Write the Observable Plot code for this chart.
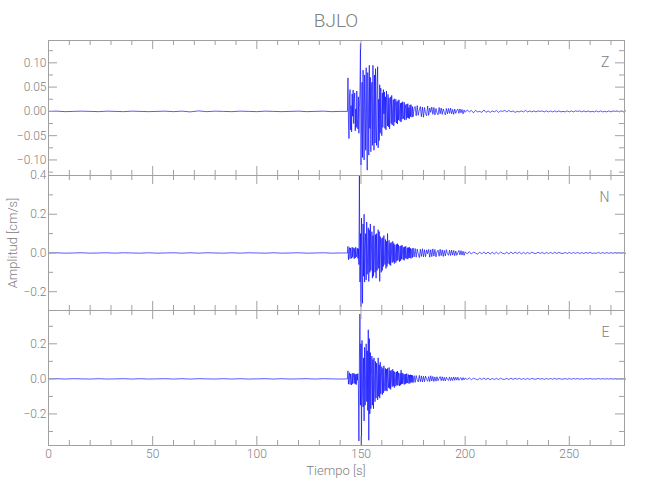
<!DOCTYPE html>
<html><head><meta charset="utf-8">
<script src="https://cdn.jsdelivr.net/npm/d3@7"></script>
<script src="https://cdn.jsdelivr.net/npm/@observablehq/plot@0.6"></script>
<style>
body{margin:0;background:#fff;}
#chart{position:relative;width:650px;height:500px;font-family:Roboto,"Liberation Sans Narrow",sans-serif;font-weight:300;color:#808080;overflow:hidden;}
#chart svg{position:absolute;left:0;}
.lbl{position:absolute;white-space:nowrap;color:#808080;}
</style></head><body><div id="chart"></div>
<script>
// ---- data (amplitudes in thousandths of cm/s) ----
const title = "BJLO";
const components = ["Z", "N", "E"];
const unit = 0.001;
const preStart = 0, preStep = 4;
const mainStart = 143.5, mainStep = 0.25;
const coda1Start = 175, coda1Step = 0.5;
const coda2Start = 200, coda2Step = 1;

const zPre = [0,0.5,-0.5,0,0.5,0,-0.5,0.5,0,-0.5,0.5,0,-0.5,0,0.5,-0.5,0.5,-1,1,-0.5,0.5,0,-0.5,0.5,0,-0.5,0.5,0,-0.5,0,0.5,-0.5,0,0.5,-0.5,0];
const zMain = [
0,69,-20,-56, 30,45,-38,12, -42,36,-10,44, -25,20,38,-40, 5,-33,42,-15, -36,30,-45,8,
40,140,-111,-30, 60,-95,85,-20, -100,75,10,-80, 90,-40,-121,80, 20,-90,95,-35, 70,-83,40,60,
-70,95,-10,-80, 75,-65,88,-30, -70,60,92,-75, 25,-60,55,-45, 48,-15,-50,38, -33,45,-5,40,
-35,30,-38,42, 10,-30,35,-32, 28,-36,12,30, -25,33,-28,5, 24,-30,26,-22, 10,25,-24,20,
-26,22,-18,24, -5,-20,17,-22, 18,-16,20,-8, -15,19,-18,14, 4,-17,15,-13, 16,-14,8,-15,
13,-11,14,-3, -12,10];
const zCoda1 = [
-11,6,10,-9,12,-8,3,10,-11,9, -12,8,-4,-9,11,-8,7,-2,9,-6,
8,-7,6,-3,-7,8,-5,7,-6,5, -2,-7,6,-5,6,-4,7,-5,4,-6, 5,-4,2,5,-4,5,-3,4,-5,3];
const zCoda2 = [
-2,3,-1,2,-3,2,-1,0,-2,3, -2,1,-2,1,-1,2,-2,1,0,2, -1,2,-1,1,-2,0,-1,1,-1,2,
-1,1,-1,1,-1,1,0,1,-1,1, -1,1,-1,1,-1,1,-1,0,-1,1, -1,1,-1,1,0,1,-1,1,-1,1,
-1,0,-1,1,-1,1,-1,0,-1,1, -1,1,0,1,-1,1,-1,1];

const nPre = [0,1,-1,0,1,-1,0,1,-1,1,0,-1,1,-1,0,1,-1,1,-1,1,0,-1,1,-1,1,0,-1,1,-1,0,1,-1,0,1,-1,0];
const nMain = [
0,34,-35,10, 28,-30,25,-12, -28,30,-22,27, 5,-30,24,-26, 30,-20,-8,25, -28,22,-60,400,
-150,100,-277,180, -40,-260,150,-120, 200,-150,30,100, -140,160,-110,20, 130,-147,120,-100, 150,-90,10,110,
-130,90,-120,140, -20,-100,95,-130, 100,-90,-30,120, -80,110,-147,85, 20,-100,75,-90, 80,-70,90,-15,
-60,70,-80,60, -70,100,-55,10, 65,-60,50,-65, 55,-20,-50,60, -45,50,-55,42, 5,-50,45,-40,
48,-38,42,-10, -45,35,-40,38, -32,40,-5,-35, 30,-38,32,-28, 35,-10,-30,27, -32,28,-25,30,
-26,24,-28,8, 22,-24];
const nCoda1 = [
26,-20,23,-22,20,-5,-24,19,-18,22, -20,17,-19,16,-4,18,-22,17,-19,21,
-16,18,-20,6,15,-17,19,-14,16,-18, 13,-15,17,-3,-12,14,-13,15,-11,13, -14,10,-12,2,13,-10,12,-11,9,-12];
const nCoda2 = [
6,-5,7,-6,5,-1,-6,5,-5,6, -5,5,-6,4,-5,4,-5,5,-2,-4, 4,-5,5,-4,4,-3,4,-4,3,-4,
3,-4,4,-1,-3,4,-3,3,-4,3, -3,3,-3,4,-3,3,-1,-3,3,-3, 3,-3,3,-2,3,-3,2,-3,3,-2,
3,-2,0,-2,3,-2,2,-2,2,-2, 2,-2,2,-1,2,-1,2,-2];

const ePre = [0,1,-1,1,0,-1,1,-1,0,1,-1,1,-1,0,1,-1,1,-1,1,0,-1,1,-1,1,-1,0,1,-1,1,-1,0,1,-1,1,0,-1];
const eMain = [
0,46,-30,10, 35,-32,28,-5, -35,30,-28,33, 8,-25,30,-30, 25,-33,28,-8, 30,-28,-354,120,
370,-150,200,-380, 220,-60,-160,120, -240,180,-150,30, 200,-130,160,-180, 280,-350,230,-200, 150,-170,20,130,
-150,110,-170,120, -40,-130,100,-110, 90,20,-120,120, -100,80,-110,95, -85,10,70,-90, 60,-80,75,-20,
-70,60,-65,55, -70,60,-10,-50, 65,-55,45,-60, 50,-5,-45,55, -40,45,-50,38, 10,-42,40,-35,
45,-38,35,-5, -40,32,-36,50, -30,34,-28,30, -8,-32,26,-30, 28,-25,30,-24, 5,25,-27,22,
-25,24,-20,22, -19,20];
const eCoda1 = [
-22,18,-20,19,-5,-17,20,-16,17,-18, 15,-16,16,-3,-14,13,-15,18,-12,14,
-15,11,-13,12,-11,3,13,-10,12,-11, 9,-12,10,-2,-9,11,-10,8,-9,11, -8,9,-7,10,-8,2,7,-8,7,-6];
const eCoda2 = [
5,-4,6,-5,4,-1,-5,4,-4,5, -4,4,-5,3,-4,3,-4,4,-2,-3, 3,-4,4,-3,3,-2,3,-3,2,-3,
2,-3,3,-1,-2,3,-2,2,-3,2, -2,2,-2,3,-2,2,-1,-2,2,-2, 2,-2,2,-1,2,-2,1,-2,2,-1,
2,-1,0,-1,2,-1,1,-1,1,-1, 1,-1,1,-1,1,-1,1,-1];

const seriesByComp = {
  Z: [zPre, zMain, zCoda1, zCoda2],
  N: [nPre, nMain, nCoda1, nCoda2],
  E: [ePre, eMain, eCoda1, eCoda2]
};
const segStarts = [preStart, mainStart, coda1Start, coda2Start];
const segSteps = [preStep, mainStep, coda1Step, coda2Step];

const xDomain = [0, 276.5];
const xMajor = [0, 50, 100, 150, 200, 250];
const xMinor = [10,20,30,40,60,70,80,90,110,120,130,140,160,170,180,190,210,220,230,240,260,270];
const yDomains = {Z: [-0.132, 0.146], N: [-0.297, 0.40], E: [-0.38, 0.39]};
const yMajor = {Z: [-0.1, -0.05, 0, 0.05, 0.1], N: [-0.2, 0, 0.2, 0.4], E: [-0.2, 0, 0.2]};
const yMinor = {Z: [-0.125, -0.075, -0.025, 0.025, 0.075, 0.125], N: [-0.1, 0.1, 0.3], E: [-0.3, -0.1, 0.1, 0.3]};
const yFormat = {Z: ".2f", N: ".1f", E: ".1f"};
const yLabel = "Amplitud [cm/s]";
const xLabel = "Tiempo [s]";

// ---- layout ----
const W = 650, ML = 48, MR = 26;
const PW = W - ML - MR;
const panelTops = [40, 175, 310];
const PH = 135;
const MT = 12;
const axisColor = "#a0a0a0";
const textColor = "#808080";
const traceColor = "#0000ff";
const fontFamily = 'Roboto,"Liberation Sans Narrow",sans-serif';

function build(comp) {
  const out = [];
  seriesByComp[comp].forEach((arr, s) => {
    arr.forEach((v, i) => out.push({t: segStarts[s] + i * segSteps[s], v: v * unit}));
  });
  return out;
}

const chart = document.getElementById("chart");

components.forEach((comp, i) => {
  const last = i === components.length - 1;
  const MB = last ? 30 : 12;
  const marks = [
    Plot.line(build(comp), {x: "t", y: "v", stroke: traceColor, strokeWidth: 0.65}),
    Plot.frame({stroke: axisColor}),
    Plot.tickX(xMajor, {x: d => d, insetTop: PH - 9, stroke: axisColor}),
    Plot.tickX(xMinor, {x: d => d, insetTop: PH - 5, stroke: axisColor}),
    Plot.tickX(xMajor, {x: d => d, insetBottom: PH - 9, stroke: axisColor}),
    Plot.tickX(xMinor, {x: d => d, insetBottom: PH - 5, stroke: axisColor}),
    Plot.tickY(yMajor[comp], {y: d => d, insetRight: PW - 9, stroke: axisColor}),
    Plot.tickY(yMinor[comp], {y: d => d, insetRight: PW - 5, stroke: axisColor}),
    Plot.tickY(yMajor[comp], {y: d => d, insetLeft: PW - 9, stroke: axisColor}),
    Plot.tickY(yMinor[comp], {y: d => d, insetLeft: PW - 5, stroke: axisColor}),
    Plot.axisY(yMajor[comp], {tickSize: 0, tickPadding: 2, tickFormat: d3.format(yFormat[comp]), label: null, fill: textColor, fontSize: 12}),
    Plot.text([comp], {text: d => d, frameAnchor: "top-right", dx: -15, dy: 17, lineAnchor: "top", textAnchor: "end", fill: textColor, fontSize: 14})
  ];
  if (last) {
    marks.push(Plot.axisX(xMajor, {tickSize: 0, tickPadding: 4, tickFormat: d3.format("d"), label: null, fill: textColor, fontSize: 12}));
  }
  const svg = Plot.plot({
    width: W, height: PH + MT + MB,
    marginLeft: ML, marginRight: MR, marginTop: MT, marginBottom: MB,
    x: {domain: xDomain, axis: last ? undefined : null},
    y: {domain: yDomains[comp]},
    style: {background: "transparent", overflow: "visible", fontFamily, fontSize: "12px", color: textColor, fontWeight: 300},
    marks
  });
  svg.style.top = (panelTops[i] - MT) + "px";
  chart.appendChild(svg);
});

function addLabel(text, css) {
  const d = document.createElement("div");
  d.className = "lbl";
  d.textContent = text;
  Object.assign(d.style, css);
  chart.appendChild(d);
}
addLabel(title, {left: ML + "px", width: PW + "px", textAlign: "center", top: "10px", fontSize: "19px", lineHeight: "22px"});
addLabel(xLabel, {left: ML + "px", width: PW + "px", textAlign: "center", top: "463px", fontSize: "13px", lineHeight: "15px"});
addLabel(yLabel, {left: "12px", top: "243px", fontSize: "13px", lineHeight: "15px", transform: "translate(-50%,-50%) rotate(-90deg)"});
</script>
</body></html>
